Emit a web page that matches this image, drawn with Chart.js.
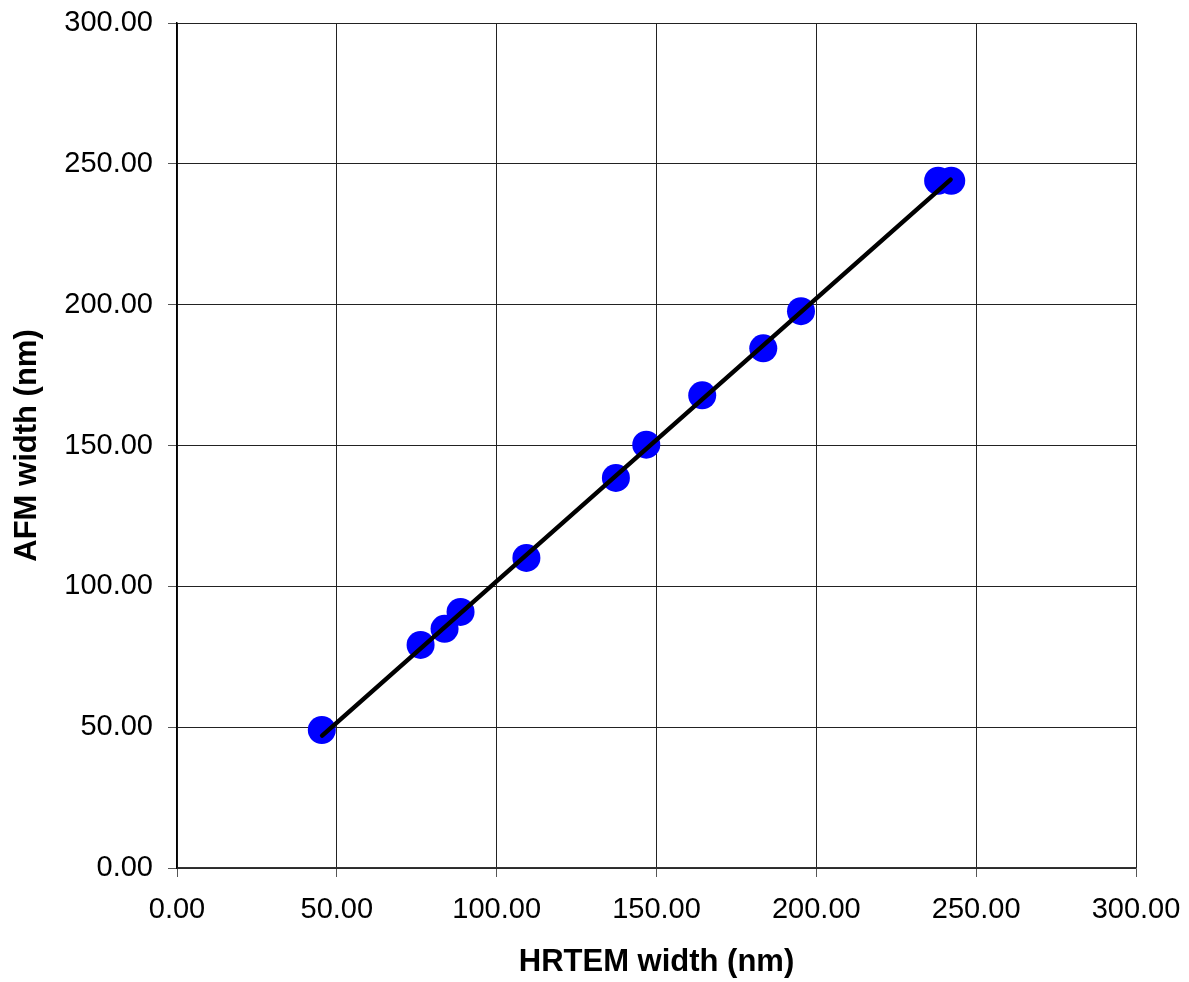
<!DOCTYPE html>
<html>
<head>
<meta charset="utf-8">
<script src="https://cdn.jsdelivr.net/npm/chart.js@4/dist/chart.umd.min.js"></script>
<style>
    body {
        margin: 0;
        background: #ffffff;
    }
    canvas {
        display: block;
    }
</style>
</head>
<body>
<canvas id="widthChart" width="1189" height="982"></canvas>
<script>

const hrtemWidth = [
    45.3, 76.2, 83.7, 88.7, 109.3, 137.3,
    146.8, 164.3, 183.4, 195.2, 238.1, 242.2
];

const afmWidth = [
    49.0, 79.2, 84.9, 90.9, 110.1, 138.5,
    150.3, 167.8, 184.5, 197.7, 244.0, 244.0
];

const fitX = [45.4, 242.0];

const fitY = [47.0, 244.4];

const axisMin = 0;

const axisMax = 300;

const axisStep = 50;

const tickFont = {

    family: "'Liberation Sans', Arial, sans-serif",

    size: 29

};

const titleFont = {

    family: "'Liberation Sans', Arial, sans-serif",

    size: 31,

    weight: "bold"

};

// the layout padding alone decides where the plot sits
function dropLabelPadding(scale) {

    scale.paddingTop = 0;

    scale.paddingBottom = 0;

    scale.paddingLeft = 0;

    scale.paddingRight = 0;

}

const ctx =
    document
        .getElementById(
            "widthChart"
        )
        .getContext("2d");

const widthChart =
    new Chart(

        ctx,

        {

            type: "scatter",

            data: {

                datasets: [

                    {

                        label: "Fit",

                        data:

                            fitX.map(

                                (x, i) => ({ x: x, y: fitY[i] })

                            ),

                        showLine: true,

                        borderColor: "#000000",

                        borderWidth: 4.5,

                        borderCapStyle: "round",

                        pointRadius: 0,

                        fill: false

                    },

                    {

                        label: "AFM vs HRTEM",

                        data:

                            hrtemWidth.map(

                                (x, i) => ({ x: x, y: afmWidth[i] })

                            ),

                        backgroundColor: "#0000ff",

                        borderWidth: 0,

                        pointRadius: 14,

                        pointHoverRadius: 14

                    }

                ]

            },

            options: {

                responsive: false,

                animation: false,

                layout: {

                    padding: {

                        left: 0,

                        top: 23,

                        right: 53,

                        bottom: 0

                    }

                },

                plugins: {

                    legend: {

                        display: false

                    },

                    tooltip: {

                        enabled: false

                    }

                },

                scales: {

                    x: {

                        type: "linear",

                        min: axisMin,

                        max: axisMax,

                        afterFit: scale => {

                            scale.height = 114;

                            dropLabelPadding(scale);

                        },

                        ticks: {

                            stepSize: axisStep,

                            color: "#000000",

                            font: tickFont,

                            padding: 16,

                            maxRotation: 0,

                            callback: v => v.toFixed(2)

                        },

                        grid: {

                            color: "#222222",

                            lineWidth: 1,

                            tickLength: 9,

                            tickColor: "#555555"

                        },

                        border: {

                            color: "#333333",

                            width: 1.5

                        },

                        title: {

                            display: true,

                            text: "HRTEM width (nm)",

                            color: "#000000",

                            font: titleFont,

                            padding: { top: 0, bottom: 1 }

                        }

                    },

                    y: {

                        type: "linear",

                        min: axisMin,

                        max: axisMax,

                        afterFit: scale => {

                            scale.width = 177;

                            dropLabelPadding(scale);

                        },

                        ticks: {

                            stepSize: axisStep,

                            color: "#000000",

                            font: tickFont,

                            padding: 15,

                            callback: v => v.toFixed(2)

                        },

                        grid: {

                            color: "#222222",

                            lineWidth: 1,

                            tickLength: 9,

                            tickColor: "#555555"

                        },

                        border: {

                            color: "#000000",

                            width: 1.5

                        },

                        title: {

                            display: true,

                            text: "AFM width (nm)",

                            color: "#000000",

                            font: titleFont,

                            padding: { top: 9, bottom: 0 }

                        }

                    }

                }

            }

        }

    );

</script>
</body>
</html>
